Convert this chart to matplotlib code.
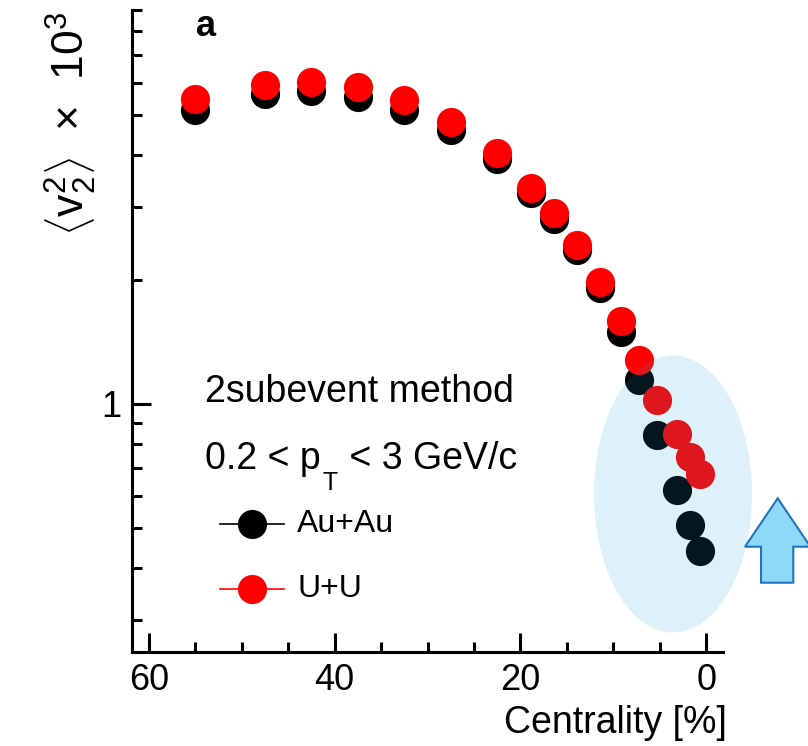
import matplotlib
matplotlib.use("Agg")
import matplotlib.pyplot as plt
from matplotlib.patches import Ellipse, Polygon
from matplotlib.lines import Line2D
from matplotlib.ticker import NullFormatter

plt.rcParams['font.family'] = ['Liberation Sans', 'DejaVu Sans']
plt.rcParams['mathtext.fontset'] = 'custom'
plt.rcParams['mathtext.rm'] = 'Liberation Sans'
plt.rcParams['mathtext.it'] = 'Liberation Sans:italic'
plt.rcParams['mathtext.bf'] = 'Liberation Sans:bold'
plt.rcParams['mathtext.sf'] = 'Liberation Sans'

# Centrality bin centres [%] and <v2^2> x 10^3 for both collision systems
centrality = [55.0, 47.5, 42.5, 37.5, 32.5, 27.5, 22.5, 18.9, 16.4, 13.9,
              11.4, 9.2, 7.2, 5.25, 3.2, 1.7, 0.7]
v22_auau = [5.16, 5.62, 5.72, 5.55, 5.15, 4.61, 3.92, 3.24, 2.81, 2.36,
            1.91, 1.49, 1.14, 0.84, 0.62, 0.51, 0.44]
v22_uu = [5.49, 5.94, 6.03, 5.87, 5.44, 4.83, 4.05, 3.34, 2.90, 2.43,
          1.97, 1.59, 1.28, 1.02, 0.845, 0.745, 0.676]

x_major = [60, 40, 20, 0]
x_minor = [55, 50, 45, 35, 30, 25, 15, 10, 5]
y_major = [1]
y_minor = [0.3, 0.4, 0.5, 0.6, 0.7, 0.8, 0.9, 2, 3, 4, 5, 6, 7, 8, 9]

W, H = 808, 746
fig = plt.figure(figsize=(W / 100, H / 100), dpi=100)


def fx(px):
    return px / W


def fy(py):
    return 1 - py / H


ax = fig.add_axes([fx(132), fy(652), (723 - 132) / W, (652 - 10) / H])

ms = 21
ax.plot(centrality, v22_auau, 'o', color='black', ms=ms, mew=0, zorder=3, clip_on=False)
ax.plot(centrality, v22_uu, 'o', color='#ff0000', ms=ms, mew=0, zorder=4, clip_on=False)

ax.set_yscale('log')
ax.set_xlim(61.8, -1.8)
ax.set_ylim(0.2508, 8.91)

for s in ('top', 'right'):
    ax.spines[s].set_visible(False)
for s in ('left', 'bottom'):
    ax.spines[s].set_linewidth(2.2)

ax.set_xticks(x_major)
ax.set_xticklabels([str(v) for v in x_major])
ax.set_xticks(x_minor, minor=True)
ax.set_yticks(y_major)
ax.set_yticklabels(['1'])
ax.set_yticks(y_minor, minor=True)
ax.yaxis.set_minor_formatter(NullFormatter())
ax.xaxis.set_minor_formatter(NullFormatter())

ax.tick_params(which='major', direction='in', length=14, width=2.2, labelsize=26, pad=8)
ax.tick_params(which='minor', direction='in', length=7, width=2.2)
for lbl in ax.get_xticklabels():
    lbl.set_x(lbl.get_position()[0])

# axis titles
fig.text(fx(727), fy(733), 'Centrality [%]', ha='right', va='baseline', fontsize=27)
fig.text(fx(71), fy(12), r'$\left\langle \mathrm{v}_{2}^{2} \right\rangle$  $\times$  10$^{3}$',
         rotation=90, ha='center', va='top', fontsize=32)

# panel label
fig.text(fx(206), fy(27), 'a', fontsize=26, fontweight='bold', ha='center', va='center')

# annotation texts
fig.text(fx(205), fy(401.7), '2subevent method', fontsize=27, ha='left', va='baseline')

renderer = fig.canvas.get_renderer()
t1 = fig.text(fx(205), fy(469.3), '0.2 < p', fontsize=27, ha='left', va='baseline')
bb = t1.get_window_extent(renderer)
x_after_p = bb.x1
t2 = fig.text(x_after_p / W + 2 / W, fy(490), 'T', fontsize=18, ha='left', va='baseline')
bb2 = t2.get_window_extent(renderer)
fig.text(bb2.x1 / W + 1 / W, fy(469.3), ' < 3 GeV/c', fontsize=27, ha='left', va='baseline')

# legend entries
for yy, col, lab in ((524, 'black', 'Au+Au'), (589.3, '#ff0000', 'U+U')):
    fig.add_artist(Line2D([fx(220), fx(284)], [fy(yy), fy(yy)], color=col, lw=1.2,
                          transform=fig.transFigure))
    fig.add_artist(Line2D([fx(251.7)], [fy(yy)], marker='o', ms=ms, mew=0, color=col,
                          transform=fig.transFigure))
    fig.text(fx(297), fy(yy), lab, fontsize=23, ha='left', va='center')

# highlight of the most central bins
ell = Ellipse((fx(673), fy(494)), 158 / W, 277 / H, transform=fig.transFigure,
              facecolor=(28 / 255, 152 / 255, 207 / 255), alpha=0.145, edgecolor='none',
              zorder=5)
fig.add_artist(ell)

# upward arrow
arrow_px = [(777.7, 498.3), (810.4, 546.7), (793.3, 546.7), (793.3, 582.7),
            (761.0, 582.7), (761.0, 546.7), (745.0, 546.7)]
arrow = Polygon([(fx(x), fy(y)) for x, y in arrow_px], closed=True,
                transform=fig.transFigure, facecolor='#8fd8f7', edgecolor='#1f75c2',
                lw=1.5, zorder=6, clip_on=False)
fig.add_artist(arrow)

fig.savefig('out.png', dpi=100)
